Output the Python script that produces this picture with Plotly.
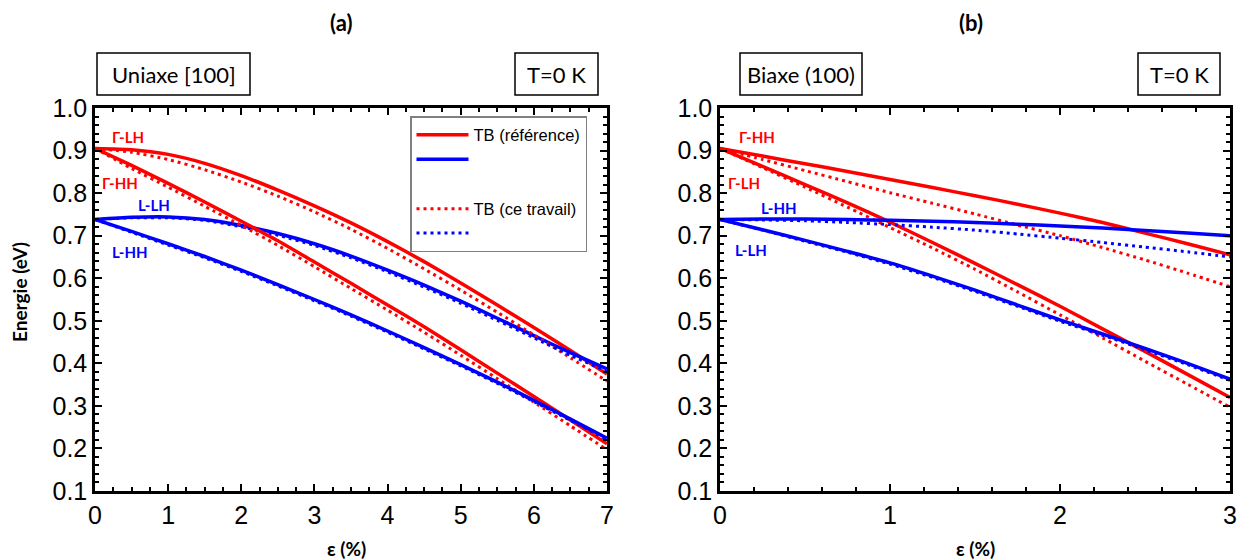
import plotly.graph_objects as go

# ---------------- data ----------------
# Panel (a): uniaxial [100], strain 0..7 %
eps_a = [0, 0.5, 1, 1.5, 2, 2.5, 3, 3.5, 4, 4.5, 5, 5.5, 6, 6.5, 7]
a_GLH_ref = [0.905, 0.902, 0.891, 0.870, 0.841, 0.807, 0.770, 0.730, 0.686, 0.639, 0.589, 0.537, 0.484, 0.430, 0.375]
a_GLH_tw = [0.905, 0.896, 0.879, 0.855, 0.826, 0.793, 0.756, 0.715, 0.670, 0.622, 0.572, 0.520, 0.467, 0.413, 0.358]
a_GHH_ref = [0.905, 0.865, 0.823, 0.779, 0.734, 0.688, 0.638, 0.588, 0.537, 0.486, 0.432, 0.377, 0.322, 0.267, 0.211]
a_GHH_tw = [0.905, 0.858, 0.814, 0.769, 0.724, 0.677, 0.627, 0.576, 0.525, 0.473, 0.419, 0.364, 0.309, 0.253, 0.197]
a_LLH_ref = [0.738, 0.743, 0.744, 0.738, 0.724, 0.705, 0.681, 0.652, 0.619, 0.584, 0.546, 0.506, 0.465, 0.425, 0.387]
a_LLH_tw = [0.738, 0.742, 0.742, 0.736, 0.721, 0.701, 0.677, 0.648, 0.615, 0.579, 0.541, 0.501, 0.460, 0.419, 0.381]
a_LHH_ref = [0.738, 0.710, 0.681, 0.651, 0.619, 0.585, 0.550, 0.514, 0.476, 0.437, 0.397, 0.356, 0.313, 0.269, 0.224]
a_LHH_tw = [0.738, 0.708, 0.678, 0.648, 0.616, 0.582, 0.547, 0.511, 0.473, 0.434, 0.394, 0.353, 0.310, 0.266, 0.221]

# Panel (b): biaxial (100), strain 0..3 %
eps_b = [0, 0.25, 0.5, 0.75, 1, 1.25, 1.5, 1.75, 2, 2.25, 2.5, 2.75, 3]
b_GHH_ref = [0.905, 0.887, 0.869, 0.851, 0.832, 0.813, 0.794, 0.774, 0.753, 0.731, 0.706, 0.681, 0.655]
b_GHH_tw = [0.905, 0.879, 0.853, 0.827, 0.801, 0.776, 0.751, 0.725, 0.700, 0.672, 0.643, 0.612, 0.580]
b_GLH_ref = [0.905, 0.863, 0.820, 0.777, 0.732, 0.684, 0.635, 0.585, 0.534, 0.481, 0.428, 0.374, 0.320]
b_GLH_tw = [0.905, 0.860, 0.814, 0.767, 0.719, 0.671, 0.621, 0.568, 0.514, 0.460, 0.405, 0.351, 0.297]
b_LHH_ref = [0.738, 0.739, 0.739, 0.738, 0.736, 0.734, 0.731, 0.727, 0.723, 0.718, 0.712, 0.706, 0.700]
b_LHH_tw = [0.738, 0.737, 0.735, 0.731, 0.726, 0.720, 0.713, 0.704, 0.694, 0.684, 0.673, 0.662, 0.650]
b_LLH_ref = [0.738, 0.714, 0.689, 0.663, 0.636, 0.605, 0.572, 0.537, 0.502, 0.469, 0.435, 0.400, 0.363]
b_LLH_tw = [0.738, 0.713, 0.687, 0.661, 0.633, 0.602, 0.569, 0.534, 0.499, 0.466, 0.432, 0.397, 0.360]

y_ticks = [0.1, 0.2, 0.3, 0.4, 0.5, 0.6, 0.7, 0.8, 0.9, 1.0]
legend_ref = "TB (référence)"
legend_tw = "TB (ce travail)"

RED = "#FF0000"
BLUE = "#0000FF"
SOLID_W = 3.5
DOT_W = 3
DOT = "3px,4px"

fig = go.Figure()


def add(x, y, color, dotted, xa, ya, name=None, group=None, show=False):
    fig.add_trace(go.Scatter(
        x=x, y=y, mode="lines", xaxis=xa, yaxis=ya,
        line=dict(color=color, width=DOT_W if dotted else SOLID_W,
                  dash=DOT if dotted else "solid", shape="spline", smoothing=0.6),
        name=name if name is not None else "", legendgroup=group,
        showlegend=show, hoverinfo="skip"))


# legend-bearing traces first (panel a)
add(eps_a, a_GLH_ref, RED, False, "x", "y", legend_ref, "ref", True)
add(eps_a, a_LLH_ref, BLUE, False, "x", "y", " ", "ref", True)
add(eps_a, a_GLH_tw, RED, True, "x", "y", legend_tw, "tw", True)
add(eps_a, a_LLH_tw, BLUE, True, "x", "y", " ", "tw", True)
add(eps_a, a_GHH_ref, RED, False, "x", "y")
add(eps_a, a_GHH_tw, RED, True, "x", "y")
add(eps_a, a_LHH_ref, BLUE, False, "x", "y")
add(eps_a, a_LHH_tw, BLUE, True, "x", "y")

# panel b
add(eps_b, b_GHH_ref, RED, False, "x2", "y2")
add(eps_b, b_GHH_tw, RED, True, "x2", "y2")
add(eps_b, b_GLH_ref, RED, False, "x2", "y2")
add(eps_b, b_GLH_tw, RED, True, "x2", "y2")
add(eps_b, b_LHH_ref, BLUE, False, "x2", "y2")
add(eps_b, b_LHH_tw, BLUE, True, "x2", "y2")
add(eps_b, b_LLH_ref, BLUE, False, "x2", "y2")
add(eps_b, b_LLH_tw, BLUE, True, "x2", "y2")

W, H = 1251, 560
OFF = 8  # page body margin of the exported html


def px_x(p):
    return (p - OFF) / W


def px_y(p):
    return 1 - (p - OFF) / H


TICKFONT = dict(family="Liberation Sans, Arial, sans-serif", size=25, color="black")

axis_common = dict(
    showline=True, linewidth=2.5, linecolor="black", mirror="ticks",
    ticks="inside", ticklen=7, tickwidth=2, tickcolor="black",
    showgrid=False, zeroline=False, tickfont=TICKFONT, fixedrange=True,
    automargin=False,
)

ydom = [px_y(491), px_y(108)]

fig.update_layout(
    width=W, height=H,
    margin=dict(l=0, r=0, t=0, b=0, pad=0, autoexpand=False),
    paper_bgcolor="white", plot_bgcolor="white",
    showlegend=True,
    xaxis=dict(domain=[px_x(95), px_x(607)], range=[0, 7], dtick=1, tick0=0,
               minor=dict(dtick=0.25, ticks="inside", ticklen=4, tickwidth=1.5, tickcolor="black"),
               anchor="y", **axis_common),
    yaxis=dict(domain=ydom, range=[0.1, 1.0], tickvals=y_ticks, tickformat=".1f",
               minor=dict(dtick=0.02, tick0=0.1, ticks="inside", ticklen=4, tickwidth=1.5, tickcolor="black"),
               anchor="x", **axis_common),
    xaxis2=dict(domain=[px_x(720), px_x(1230)], range=[0, 3], dtick=1, tick0=0,
                minor=dict(dtick=0.2, ticks="inside", ticklen=4, tickwidth=1.5, tickcolor="black"),
                anchor="y2", **axis_common),
    yaxis2=dict(domain=ydom, range=[0.1, 1.0], tickvals=y_ticks, tickformat=".1f",
                minor=dict(dtick=0.02, tick0=0.1, ticks="inside", ticklen=4, tickwidth=1.5, tickcolor="black"),
                anchor="x2", **axis_common),
    legend=dict(
        x=px_x(410), y=px_y(116), xanchor="left", yanchor="top",
        bgcolor="white", bordercolor="#808080", borderwidth=1.5,
        font=dict(family="Liberation Sans, Arial, sans-serif", size=16.5, color="black"),
        traceorder="grouped", tracegroupgap=25, itemwidth=52,
    ),
)

ann = []
shapes = []

BOXFONT = dict(family="Lato, Carlito, sans-serif", size=22, color="black")


def box(x0, x1, y0, y1, text):
    shapes.append(dict(type="rect", xref="paper", yref="paper",
                       x0=px_x(x0), x1=px_x(x1), y0=px_y(y1), y1=px_y(y0),
                       line=dict(color="black", width=1.5), fillcolor="white"))
    ann.append(dict(text=text, xref="paper", yref="paper",
                    x=px_x((x0 + x1) / 2), y=px_y((y0 + y1) / 2),
                    xanchor="center", yanchor="middle", showarrow=False, font=BOXFONT))


box(97, 250, 53, 95, "Uniaxe [100]")
box(515, 598, 53, 95, "T=0 K")
box(740, 862, 53, 95, "Biaxe (100)")
box(1138, 1220, 53, 95, "T=0 K")

TITLEFONT = dict(family="Lato, Carlito, sans-serif", size=22, color="black")
ann.append(dict(text="<b>(a)</b>", xref="paper", yref="paper", x=px_x(341), y=px_y(22),
                xanchor="center", yanchor="middle", showarrow=False, font=TITLEFONT))
ann.append(dict(text="<b>(b)</b>", xref="paper", yref="paper", x=px_x(971), y=px_y(22),
                xanchor="center", yanchor="middle", showarrow=False, font=TITLEFONT))

AXFONT = dict(family="Lato, Carlito, sans-serif", size=19, color="black")
ann.append(dict(text="<b>Energie (eV)</b>", xref="paper", yref="paper", x=px_x(19), y=px_y(292),
                xanchor="center", yanchor="middle", showarrow=False, textangle=-90, font=AXFONT))
ann.append(dict(text="<b>ε (%)</b>", xref="paper", yref="paper", x=px_x(346), y=px_y(548),
                xanchor="center", yanchor="middle", showarrow=False, font=AXFONT))
ann.append(dict(text="<b>ε (%)</b>", xref="paper", yref="paper", x=px_x(975), y=px_y(548),
                xanchor="center", yanchor="middle", showarrow=False, font=AXFONT))

LBLFONT = "Lato, Carlito, sans-serif"


def label(text, xp, yp, color):
    ann.append(dict(text="<b>" + text + "</b>", xref="paper", yref="paper", x=px_x(xp), y=px_y(yp),
                    xanchor="center", yanchor="middle", showarrow=False,
                    font=dict(family=LBLFONT, size=15, color=color)))


label("Γ-LH", 128, 137, RED)
label("Γ-HH", 120, 183, RED)
label("L-LH", 154, 205, BLUE)
label("L-HH", 130, 252, BLUE)
label("Γ-HH", 757, 137, RED)
label("Γ-LH", 744, 183, RED)
label("L-HH", 779, 208, BLUE)
label("L-LH", 751, 250, BLUE)

fig.update_layout(annotations=ann, shapes=shapes)

fig.write_html("out.html")
